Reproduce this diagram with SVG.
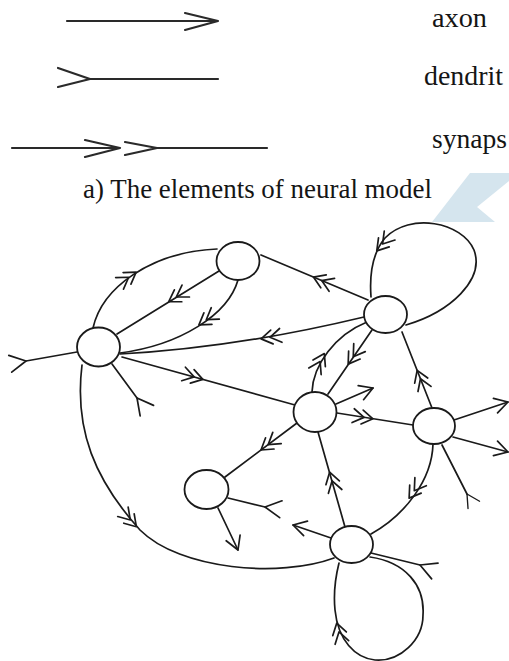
<svg xmlns="http://www.w3.org/2000/svg" xmlns:xlink="http://www.w3.org/1999/xlink" width="509" height="661" viewBox="0 0 509 661">
<style>
.ln{fill:none;stroke:#1a1a1a;stroke-width:1.7;stroke-linecap:round;stroke-linejoin:round}
.lg{fill:none;stroke:#2a2a2a;stroke-width:2.2;stroke-linecap:round;stroke-linejoin:round}
.nd{fill:#fff;stroke:#1a1a1a;stroke-width:1.8}
.t{font-family:"Liberation Serif","Times New Roman",serif;fill:#151515}
</style>
<defs>
<path id="syn" class="ln" d="M-15,-7 L-4,0 L-15,7 M-6,-7 L5,0 L-6,7"/>
<path id="ax" class="ln" d="M-13,-7.5 L0,0 L-13,7.5"/>
<path id="den" class="ln" d="M16,-8.5 L0,0 L16,8.5"/>
</defs>
<rect width="509" height="661" fill="#fff"/>
<polygon id="watermark" points="470,173 509,173 509,181 477,207 495,222 432,222" fill="#d5e5ee"/>
<g id="legend">
<path class="lg" d="M67,21 L218,21 M185,13 L218,21 L185,30"/>
<path class="lg" d="M58,68 L90,79 L58,87 M90,79 L218,79"/>
<path class="lg" d="M12,148 L120,148 M85,140 L120,148 L85,157 M125,142 L157,148 L125,155 M157,148 L267,148"/>
<text class="t" x="432" y="27" font-size="27" textLength="55" lengthAdjust="spacingAndGlyphs">axon</text>
<text class="t" x="424" y="85" font-size="27" textLength="79" lengthAdjust="spacingAndGlyphs">dendrit</text>
<text class="t" x="432" y="148" font-size="27" textLength="75" lengthAdjust="spacingAndGlyphs">synaps</text>
</g>
<text id="caption" class="t" x="83" y="198" font-size="27" textLength="349" lengthAdjust="spacingAndGlyphs">a) The elements of neural model</text>
<g id="connectors">
<path class="ln" d="M93,328 C102,288 150,252 217,249"/>
<use href="#syn" transform="translate(132,275) rotate(-34)"/>
<path class="ln" d="M219,271 L117,334"/>
<use href="#syn" transform="translate(173,299) rotate(148)"/>
<path class="ln" d="M238,280 C228,315 180,345 120,353"/>
<use href="#syn" transform="translate(203,322) rotate(145)"/>
<path class="ln" d="M120,354 Q235,348 364,317"/>
<use href="#syn" transform="translate(266,338) rotate(170)"/>
<path class="ln" d="M368,300 L261,255"/>
<use href="#syn" transform="translate(318,279) rotate(203)"/>
<path class="ln" d="M406,325 C450,312 485,280 474,250 C462,222 410,212 385,238 C375,250 369,270 371,297"/>
<use href="#syn" transform="translate(380,247) rotate(130)"/>
<path class="ln" d="M372,330 L328,394"/>
<use href="#syn" transform="translate(351,360) rotate(124.5)"/>
<path class="ln" d="M312,392 C313,365 335,335 367,322"/>
<use href="#syn" transform="translate(322,358) rotate(-62)"/>
<path class="ln" d="M432,408 L402,332"/>
<use href="#syn" transform="translate(419,375) rotate(248.5)"/>
<path class="ln" d="M122,357 L295,405"/>
<use href="#syn" transform="translate(198,378) rotate(15.5)"/>
<path class="ln" d="M112,364 L137,398"/>
<use href="#den" transform="translate(137,398) rotate(52)"/>
<path class="ln" d="M77,352 L26,361"/>
<use href="#den" transform="translate(26,361) rotate(170)"/>
<path class="ln" d="M82,365 C74,430 95,480 140,530 C180,570 280,578 334,558"/>
<use href="#syn" transform="translate(133,523) rotate(48)"/>
<path class="ln" d="M297,423 L225,477"/>
<use href="#syn" transform="translate(265,447) rotate(143)"/>
<path class="ln" d="M228,498 L265,507"/>
<use href="#den" transform="translate(265,507) rotate(8)"/>
<path class="ln" d="M218,508 L238,550"/>
<use href="#ax" transform="translate(238,550) rotate(68)"/>
<path class="ln" d="M345,527 L318,432"/>
<use href="#syn" transform="translate(331,477) rotate(-106)"/>
<path class="ln" d="M433,444 C432,480 405,515 371,534"/>
<use href="#syn" transform="translate(412,494) rotate(125)"/>
<path class="ln" d="M331,538 L293,525"/>
<use href="#ax" transform="translate(293,525) rotate(195)"/>
<path class="ln" d="M371,553 L420,565"/>
<use href="#den" transform="translate(420,565) rotate(22)"/>
<path class="ln" d="M370,557 C405,562 425,585 423,615 C423,640 400,662 375,660 C355,658 338,640 335,610 C333,590 336,575 339,563"/>
<use href="#syn" transform="translate(338,628) rotate(-105)"/>
<path class="ln" d="M336,404 L373,388"/>
<use href="#ax" transform="translate(373,388) rotate(-21)"/>
<path class="ln" d="M337,413 L413,425"/>
<use href="#syn" transform="translate(368,418) rotate(9)"/>
<path class="ln" d="M454,420 L508,402"/>
<use href="#ax" transform="translate(508,402) rotate(-16)"/>
<path class="ln" d="M453,437 L508,452"/>
<use href="#ax" transform="translate(508,452) rotate(16)"/>
<path class="ln" d="M442,445 L467,494"/>
<use href="#den" transform="translate(467,494) rotate(58) scale(0.8)"/>
</g>
<g id="nodeA"><ellipse class="nd" cx="238" cy="261" rx="21.5" ry="19"/></g>
<g id="nodeB"><ellipse class="nd" cx="98.5" cy="347" rx="21.5" ry="19.5"/></g>
<g id="nodeC"><ellipse class="nd" cx="385.5" cy="314.5" rx="21.5" ry="18.5"/></g>
<g id="nodeD"><ellipse class="nd" cx="315" cy="412" rx="21.5" ry="20"/></g>
<g id="nodeE"><ellipse class="nd" cx="434" cy="426" rx="21" ry="18"/></g>
<g id="nodeF"><ellipse class="nd" cx="206.5" cy="489.5" rx="22" ry="19.5"/></g>
<g id="nodeG"><ellipse class="nd" cx="351.5" cy="544.5" rx="21.5" ry="18.5"/></g>
</svg>
